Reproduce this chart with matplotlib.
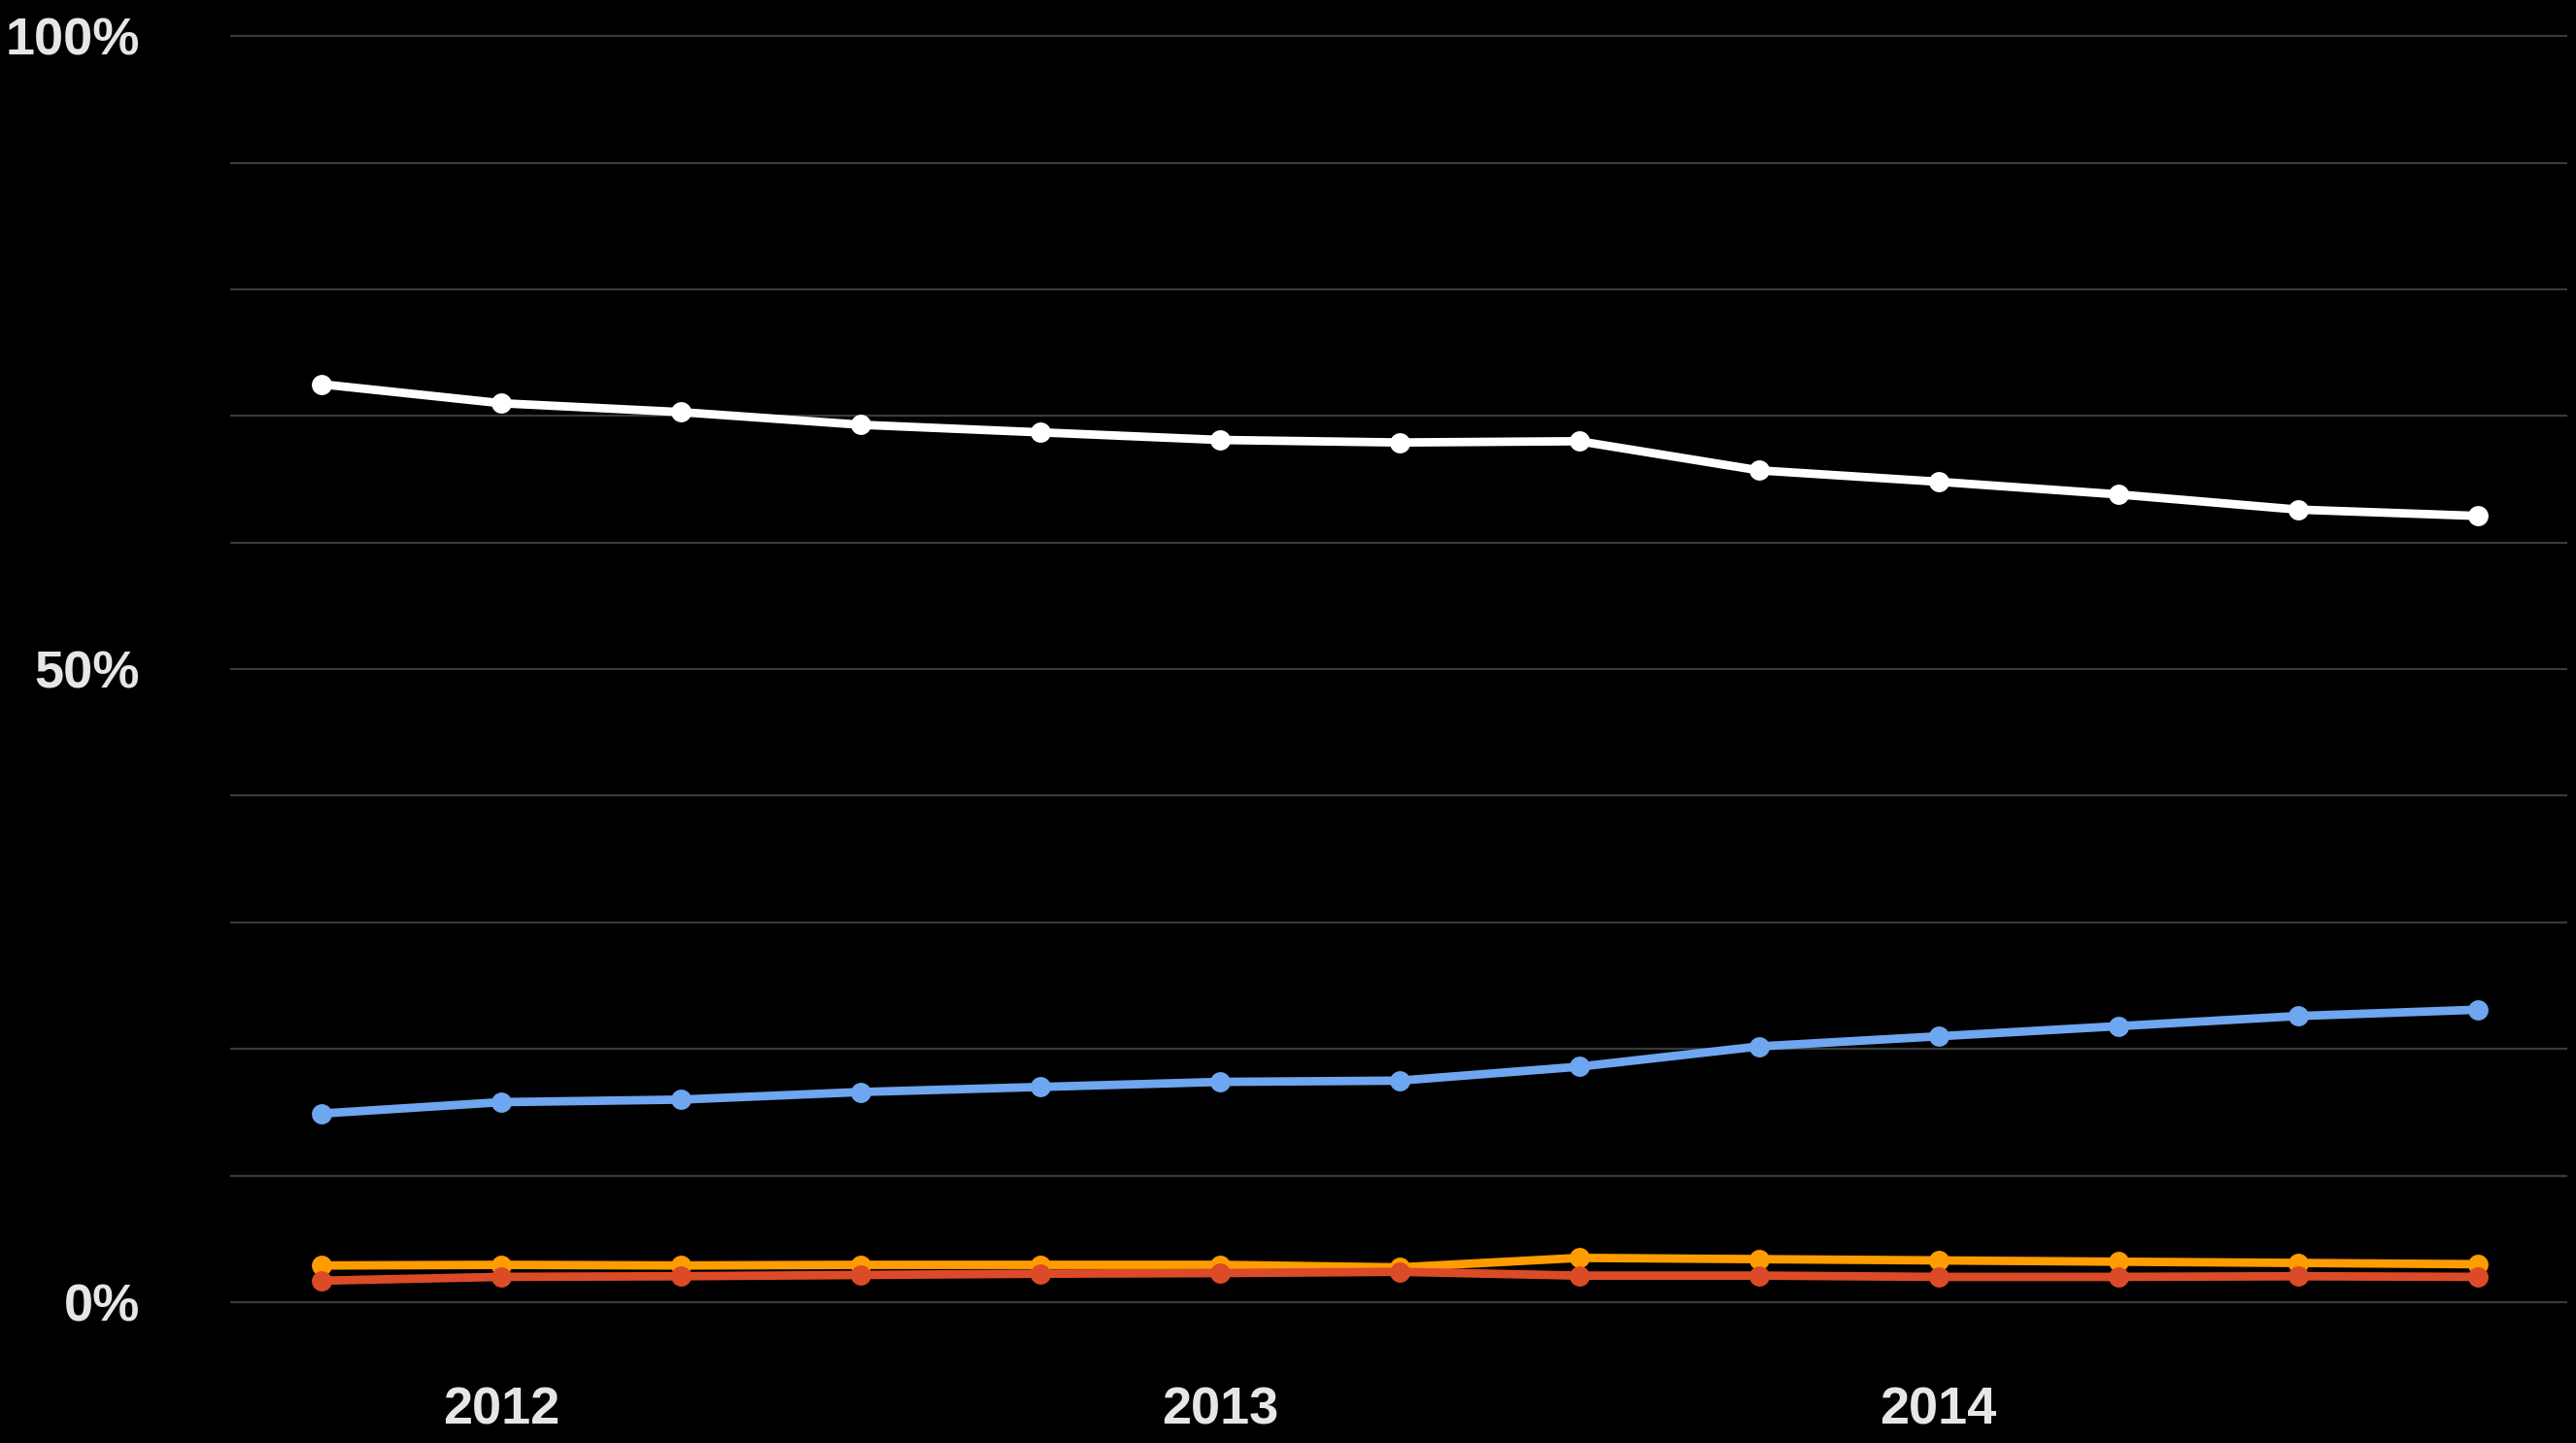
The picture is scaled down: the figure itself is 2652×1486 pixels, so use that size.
import matplotlib.pyplot as plt

# quarterly points, Q4 2011 .. Q4 2014
quarters = [2011.75, 2012.0, 2012.25, 2012.5, 2012.75, 2013.0, 2013.25,
            2013.5, 2013.75, 2014.0, 2014.25, 2014.5, 2014.75]

white_share = [72.5, 71.0, 70.3, 69.3, 68.7, 68.1, 67.9, 68.0, 65.7, 64.8, 63.8, 62.6, 62.1]
blue_share = [14.9, 15.8, 16.0, 16.6, 17.0, 17.4, 17.5, 18.6, 20.2, 21.0, 21.8, 22.6, 23.1]
orange_share = [2.9, 2.95, 2.9, 2.95, 2.95, 2.95, 2.75, 3.5, 3.4, 3.3, 3.2, 3.1, 3.0]
red_share = [1.7, 2.0, 2.05, 2.15, 2.25, 2.3, 2.4, 2.1, 2.1, 2.0, 2.0, 2.05, 2.0]

year_ticks = [2012, 2013, 2014]
year_labels = ['2012', '2013', '2014']
pct_ticks = [0, 50, 100]
pct_labels = ['0%', '50%', '100%']

plt.rcParams['font.family'] = ['Liberation Sans', 'DejaVu Sans']

fig = plt.figure(figsize=(26.52, 14.86), dpi=100, facecolor='black')
ax = fig.add_axes([0.0894, 0.0888, 0.9072, 0.8950])
ax.set_facecolor('black')

series = [(white_share, '#ffffff'), (blue_share, '#6ea6ef'),
          (orange_share, '#ff9c00'), (red_share, '#dc4b27')]
for vals, col in series:
    ax.plot(quarters, vals, color=col, lw=6.3, marker='o', markersize=15,
            markeredgewidth=0, solid_capstyle='round', zorder=3)

ax.set_xlim(2011.623, 2014.875)
ax.set_ylim(-1, 101)

# grid every 10%
ax.set_yticks(range(0, 101, 10), minor=True)
ax.set_yticks(pct_ticks)
ax.set_yticklabels(pct_labels)
ax.grid(True, which='both', axis='y', color='#3a3a3a', lw=1.6)
ax.set_xticks(year_ticks)
ax.set_xticklabels(year_labels)

ax.tick_params(axis='y', which='both', length=0, pad=67, labelsize=39, labelcolor='#e6e6e6')
ax.tick_params(axis='x', length=0, pad=53, labelsize=39, labelcolor='#e6e6e6')
for lbl in ax.get_yticklabels() + ax.get_xticklabels():
    lbl.set_fontweight('bold')
for lbl in ax.get_yticklabels():
    lbl.set_horizontalalignment('right')

for s in ax.spines.values():
    s.set_visible(False)

fig.savefig('out.png', dpi=100, facecolor='black')
